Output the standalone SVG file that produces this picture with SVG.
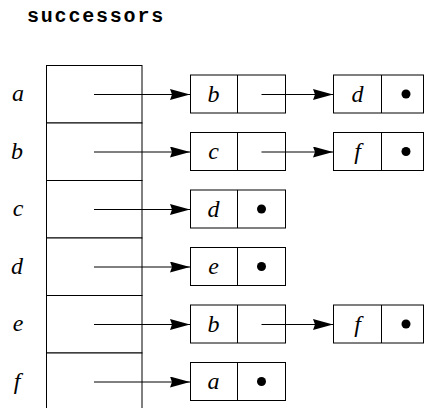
<svg xmlns="http://www.w3.org/2000/svg" width="424" height="408" viewBox="0 0 424 408">
<style>
.t{font-family:"Liberation Mono",monospace;font-weight:bold;font-size:20px;letter-spacing:1.8px}
.l{font-family:"Liberation Serif",serif;font-style:italic;font-size:24px;text-anchor:middle}
.b{fill:#fff;stroke:#000;stroke-width:1}
.c{stroke:#000;stroke-width:1;fill:none}
.h{fill:#000}
</style>
<defs>
<marker id="ah" viewBox="0 0 20 11" refX="20" refY="5.5" markerWidth="20" markerHeight="11" markerUnits="userSpaceOnUse" orient="auto">
<path d="M0,0 L20,5.5 L0,11 L2,5.5 Z" class="h"/>
</marker>
</defs>
<rect width="424" height="408" fill="#fff"/>
<text x="27" y="22" class="t">successors</text>
<g id="table">
<rect x="46.5" y="65.5" width="95.5" height="57.5" class="b"/>
<rect x="46.5" y="123" width="95.5" height="57.5" class="b"/>
<rect x="46.5" y="180.5" width="95.5" height="57.5" class="b"/>
<rect x="46.5" y="238" width="95.5" height="57.5" class="b"/>
<rect x="46.5" y="295.5" width="95.5" height="57.5" class="b"/>
<rect x="46.5" y="353" width="95.5" height="57.5" class="b"/>
</g>
<g id="labels">
<text x="18" y="101" class="l">a</text>
<text x="17" y="158.5" class="l">b</text>
<text x="18" y="216" class="l">c</text>
<text x="17" y="273.5" class="l">d</text>
<text x="18" y="331" class="l">e</text>
<text x="17" y="388.5" class="l">f</text>
</g>
<g id="cells">
<g id="a1"><rect x="190.5" y="75" width="95" height="38" class="b"/><line x1="237.5" y1="75" x2="237.5" y2="113" class="c"/><text x="213.5" y="101.5" class="l">b</text></g>
<g id="a2"><rect x="333.5" y="75" width="95" height="38" class="b"/><line x1="381.5" y1="75" x2="381.5" y2="113" class="c"/><line x1="423.5" y1="75" x2="423.5" y2="113" class="c"/><text x="357.5" y="101.5" class="l">d</text><circle cx="406" cy="94" r="4.5" class="h"/></g>
<g id="b1"><rect x="190.5" y="132.5" width="95" height="38" class="b"/><line x1="237.5" y1="132.5" x2="237.5" y2="170.5" class="c"/><text x="213.5" y="159" class="l">c</text></g>
<g id="b2"><rect x="333.5" y="132.5" width="95" height="38" class="b"/><line x1="381.5" y1="132.5" x2="381.5" y2="170.5" class="c"/><line x1="423.5" y1="132.5" x2="423.5" y2="170.5" class="c"/><text x="357.5" y="159" class="l">f</text><circle cx="406" cy="151.5" r="4.5" class="h"/></g>
<g id="c1"><rect x="190.5" y="190" width="95" height="38" class="b"/><line x1="237.5" y1="190" x2="237.5" y2="228" class="c"/><text x="213.5" y="216.5" class="l">d</text><circle cx="261.5" cy="209" r="4.5" class="h"/></g>
<g id="d1"><rect x="190.5" y="247.5" width="95" height="38" class="b"/><line x1="237.5" y1="247.5" x2="237.5" y2="285.5" class="c"/><text x="213.5" y="274" class="l">e</text><circle cx="261.5" cy="266.5" r="4.5" class="h"/></g>
<g id="e1"><rect x="190.5" y="305" width="95" height="38" class="b"/><line x1="237.5" y1="305" x2="237.5" y2="343" class="c"/><text x="213.5" y="331.5" class="l">b</text></g>
<g id="e2"><rect x="333.5" y="305" width="95" height="38" class="b"/><line x1="381.5" y1="305" x2="381.5" y2="343" class="c"/><line x1="423.5" y1="305" x2="423.5" y2="343" class="c"/><text x="357.5" y="331.5" class="l">f</text><circle cx="406" cy="324" r="4.5" class="h"/></g>
<g id="f1"><rect x="190.5" y="362.5" width="95" height="38" class="b"/><line x1="237.5" y1="362.5" x2="237.5" y2="400.5" class="c"/><text x="213.5" y="389" class="l">a</text><circle cx="261.5" cy="381.5" r="4.5" class="h"/></g>
</g>
<g id="connectors" class="c">
<line x1="94" y1="94.5" x2="190" y2="94.5" marker-end="url(#ah)"/>
<line x1="94" y1="152" x2="190" y2="152" marker-end="url(#ah)"/>
<line x1="94" y1="209.5" x2="190" y2="209.5" marker-end="url(#ah)"/>
<line x1="94" y1="267" x2="190" y2="267" marker-end="url(#ah)"/>
<line x1="94" y1="324.5" x2="190" y2="324.5" marker-end="url(#ah)"/>
<line x1="94" y1="382" x2="190" y2="382" marker-end="url(#ah)"/>
<line x1="261.5" y1="94.5" x2="333" y2="94.5" marker-end="url(#ah)"/>
<line x1="261.5" y1="152" x2="333" y2="152" marker-end="url(#ah)"/>
<line x1="261.5" y1="324.5" x2="333" y2="324.5" marker-end="url(#ah)"/>
</g>
</svg>
